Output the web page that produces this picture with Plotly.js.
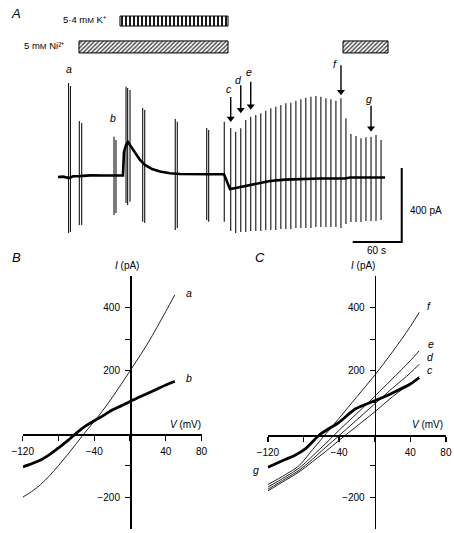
<!DOCTYPE html>
<html><head><meta charset="utf-8">
<script src="https://cdn.plot.ly/plotly-3.0.1.min.js"></script>
<style>html,body{margin:0;padding:0;background:#fff;}#chart{width:454px;height:533px;}</style>
</head><body><div id="chart"></div>
<script>
// ---------- Panel A : holding current (time in s, current in pA relative to start level)
const holdT = [0, 6.1, 13.5, 18.4, 26.9, 39.2, 57.6, 69.8, 79.6, 80.8, 83.3, 85.7, 88.2, 94.3, 100.4, 106.5, 115.1, 124.9, 137.1, 149.4, 167.8, 186.1, 203.3, 206.9, 210.6, 214.3, 222.9, 235.1, 247.3, 259.6, 278.0, 296.3, 320.8, 351.4, 357.6, 400.4];
const holdI = [0, 2, -6, 4, 5, 9, 8, 9, 9, 135, 173, 189, 173, 130, 92, 65, 43, 30, 20, 16, 14, 15, 15, -27, -65, -62, -54, -41, -30, -22, -14, -10, -8, -8, -3, -3];

// ramp sweeps: time, top and bottom of the current excursion (pA)
const sweepT = [12.9, 15.3, 26.1, 29.0, 68.6, 71.0, 83.3, 85.3, 88.2, 103.7, 106.2, 143.6, 146.1, 182.1, 184.5, 203.6,
  211.5, 217.6, 223.8, 229.9, 236.0, 242.2, 248.3, 254.4, 260.6, 266.7, 272.9, 279.0, 285.1, 291.3, 297.4, 303.5,
  309.7, 315.8, 321.9, 328.1, 334.2, 340.3, 346.5, 352.6, 358.7, 364.9, 371.0, 377.1, 383.3, 389.4, 395.6];
const sweepTop = [508, 492, 303, 292, 218, 200, 488, 481, 470, 373, 362, 314, 299, 265, 254, 299,
  265, 245, 263, 308, 326, 335, 344, 358, 371, 380, 389, 398, 402, 412, 420, 429,
  434, 438, 434, 425, 420, 412, 425, 317, 232, 222, 209, 215, 218, 227, 200];
const sweepBottom = [-303, -297, -259, -259, -205, -195, -141, -151, -134, -242, -249, -286, -276, -232, -242, -242,
  -292, -303, -297, -297, -292, -292, -292, -286, -286, -286, -281, -281, -281, -276, -276, -276,
  -276, -270, -270, -270, -270, -270, -276, -254, -243, -243, -243, -238, -238, -238, -232];
const sweepLabels = ['a', 'b', 'c', 'd', 'e', 'f', 'g'];
const sweepLabelIdx = [0, 4, 16, 18, 20, 38, 44];

// solution application periods (s)
const kOn = [75.9], kOff = [208.2];
const niOn = [25.7, 349.0], niOff = [208.2, 404.1];
const solutionLabels = ['5·4 m<span style="font-size:8px">M</span> K\u207A', '5 m<span style="font-size:8px">M</span> Ni\u00B2\u207A'];
const scaleT = 60, scaleI = 400;

// ---------- Panel B : I–V relations a and b (mV, pA)
const vB = [-120, -110, -100, -90, -80, -70, -60, -50, -40, -30, -20, -10, 0, 10, 20, 30, 40, 50];
const iBa = [-200, -182, -160, -132, -100, -66, -30, 6, 40, 76, 115, 157, 200, 243, 288, 337, 388, 440];
const iBb = [-104, -94, -82, -65, -44, -22, 3, 25, 42, 58, 76, 89, 103, 116, 129, 142, 155, 167];

// ---------- Panel C : I–V relations c–g
const vC = [-120, -100, -85, -70, -55, -40, -20, 0, 20, 40, 50];
const iCc = [-180, -146, -120, -88, -55, -20, 25, 70, 118, 160, 182];
const iCd = [-175, -141, -115, -80, -42, -5, 45, 95, 145, 193, 221];
const iCe = [-168, -135, -108, -70, -30, 12, 65, 119, 175, 232, 263];
const iCf = [-160, -128, -100, -50, 0, 50, 118, 186, 260, 340, 385];
const vG = [-120, -100, -90, -78, -61, -40, -22, 0, 20, 40, 50];
const iCg = [-105, -80, -68, -47, 0, 37, 79, 105, 130, 158, 178];

// labelled and unlabelled ticks
const vTicks = [-120, -40, 40, 80];
const vTickText = ['\u2212120', '\u221240', '40', '80'];
const vMinorTicks = [-80, 0];
const iTicks = [400, 200, -200];
const iTickText = ['400', '200', '\u2212200'];
const iMinorTicks = [300, 100, -100];

// ---------- layout helpers (pixel -> paper fraction)
const W = 454, H = 533;
const fx = p => p / W, fy = p => 1 - p / H;
const FONT = 'Liberation Sans, Arial, sans-serif';
const yRangeA = [-448.6, 956.7], yPixA = 260;          // panel A y axis spans 260 px
const pAperPx = (yRangeA[1] - yRangeA[0]) / yPixA;

// sweeps as segments
const sx = [], sy = [];
sweepT.forEach((t, i) => { sx.push(t, t, null); sy.push(sweepBottom[i], sweepTop[i], null); });

// arrows (c..g): [label index, tail height px above sweep top, gap px above sweep top]
const arrowCfg = [[2, 31, 6], [3, 43, 15], [4, 35, 7], [5, 33, 3], [6, 31, 5]];
const ax = [], ay = [], hx = [], hy = [];
arrowCfg.forEach(([k, len, gap]) => {
  const i = sweepLabelIdx[k];
  ax.push(sweepT[i], sweepT[i], null);
  ay.push(sweepTop[i] + len * pAperPx, sweepTop[i] + (gap + 4) * pAperPx, null);
  hx.push(sweepT[i]);
  hy.push(sweepTop[i] + (gap + 3.5) * pAperPx);
});

const traces = [
  {type: 'scatter', mode: 'lines', x: sx, y: sy, xaxis: 'x', yaxis: 'y', line: {color: '#111', width: 1.1}, hoverinfo: 'skip'},
  {type: 'scatter', mode: 'lines', x: holdT, y: holdI, xaxis: 'x', yaxis: 'y', line: {color: '#000', width: 2.6}, hoverinfo: 'skip'},
  {type: 'bar', orientation: 'h', y: kOn.map(() => 843), base: kOn, x: kOn.map((v, i) => kOff[i] - v), width: 54,
   xaxis: 'x', yaxis: 'y', marker: {color: 'white', line: {color: '#000', width: 1},
   pattern: {shape: '|', fgcolor: '#000', bgcolor: 'white', size: 4, solidity: 0.45}}, hoverinfo: 'skip'},
  {type: 'bar', orientation: 'h', y: niOn.map(() => 703), base: niOn, x: niOn.map((v, i) => niOff[i] - v), width: 65,
   xaxis: 'x', yaxis: 'y', marker: {color: 'white', line: {color: '#000', width: 1},
   pattern: {shape: '/', fgcolor: '#444', bgcolor: 'white', size: 3, solidity: 0.45}}, hoverinfo: 'skip'},
  // arrows
  {type: 'scatter', mode: 'lines', x: ax, y: ay, xaxis: 'x', yaxis: 'y', line: {color: '#000', width: 1.4}, hoverinfo: 'skip'},
  {type: 'scatter', mode: 'markers', x: hx, y: hy, xaxis: 'x', yaxis: 'y', marker: {symbol: 'triangle-down', size: 7, color: '#000', line: {width: 0}}, hoverinfo: 'skip'},
  // scale bar
  {type: 'scatter', mode: 'lines', x: [420.9 - scaleT, 420.9, 420.9], y: [-351.4, -351.4, -351.4 + scaleI],
   xaxis: 'x', yaxis: 'y', line: {color: '#000', width: 2}, hoverinfo: 'skip'},
  // Panel B
  {type: 'scatter', mode: 'lines', x: vB, y: iBa, xaxis: 'x2', yaxis: 'y2', line: {color: '#222', width: 1, shape: 'spline'}, hoverinfo: 'skip'},
  {type: 'scatter', mode: 'lines', x: vB, y: iBb, xaxis: 'x2', yaxis: 'y2', line: {color: '#000', width: 2.8, shape: 'spline'}, hoverinfo: 'skip'},
  // Panel C
  {type: 'scatter', mode: 'lines', x: vC, y: iCc, xaxis: 'x3', yaxis: 'y3', line: {color: '#222', width: 1, shape: 'spline'}, hoverinfo: 'skip'},
  {type: 'scatter', mode: 'lines', x: vC, y: iCd, xaxis: 'x3', yaxis: 'y3', line: {color: '#222', width: 1, shape: 'spline'}, hoverinfo: 'skip'},
  {type: 'scatter', mode: 'lines', x: vC, y: iCe, xaxis: 'x3', yaxis: 'y3', line: {color: '#222', width: 1, shape: 'spline'}, hoverinfo: 'skip'},
  {type: 'scatter', mode: 'lines', x: vC, y: iCf, xaxis: 'x3', yaxis: 'y3', line: {color: '#222', width: 1, shape: 'spline'}, hoverinfo: 'skip'},
  {type: 'scatter', mode: 'lines', x: vG, y: iCg, xaxis: 'x3', yaxis: 'y3', line: {color: '#000', width: 2.8, shape: 'spline', smoothing: 0.6}, hoverinfo: 'skip'}
];

const minorCfg = vals => ({tickmode: 'array', tickvals: vals, ticks: 'outside', ticklen: 5, tickwidth: 1.3, tickcolor: '#000', showgrid: false});
const ivX = (dom, pos) => ({domain: dom, range: [-120, 80], anchor: 'free', position: pos, showline: true, linecolor: '#000', linewidth: 1.6,
  ticks: 'outside', ticklen: 5, tickwidth: 1.3, tickcolor: '#000', tickmode: 'array', tickvals: vTicks, ticktext: vTickText,
  minor: minorCfg(vMinorTicks),
  tickfont: {size: 10, color: '#000', family: FONT}, ticklabelstandoff: 2, showgrid: false, zeroline: false, fixedrange: true});
const ivY = (dom, pos) => ({domain: dom, range: [-300, 500], anchor: 'free', position: pos, showline: true, linecolor: '#000', linewidth: 1.6,
  ticks: 'outside', ticklen: 5, tickwidth: 1.3, tickcolor: '#000', tickmode: 'array', tickvals: iTicks, ticktext: iTickText,
  minor: minorCfg(iMinorTicks),
  tickfont: {size: 10, color: '#000', family: FONT}, ticklabelstandoff: 3, showgrid: false, zeroline: false, fixedrange: true});

const yDomIV = [fy(528.8), fy(276)];
const layout = {
  width: W, height: H, margin: {l: 0, r: 0, t: 0, b: 0}, showlegend: false,
  paper_bgcolor: '#fff', plot_bgcolor: 'rgba(0,0,0,0)', barmode: 'overlay',
  font: {family: FONT, color: '#000', size: 10},
  xaxis: {domain: [0, 1], range: [-71.0, 484.9], visible: false, fixedrange: true},
  yaxis: {domain: [fy(yPixA), 1], range: yRangeA, visible: false, fixedrange: true},
  xaxis2: ivX([fx(22.7), fx(201.6)], fy(434)),
  yaxis2: ivY(yDomIV, fx(130)),
  xaxis3: ivX([fx(267.9), fx(445.9)], fy(435)),
  yaxis3: ivY(yDomIV, fx(374.7)),
  annotations: []
};
const A = layout.annotations;
const txt = (x, y, text, size, extra) => A.push(Object.assign({xref: 'paper', yref: 'paper', x: fx(x), y: fy(y), text: text,
  showarrow: false, xanchor: 'center', yanchor: 'middle', font: {size: size, family: FONT, color: '#000'}}, extra || {}));

// panel letters
txt(16, 13, '<i>A</i>', 13);
txt(16, 257, '<i>B</i>', 13);
txt(260, 257, '<i>C</i>', 13);
// solution labels
txt(108, 20, solutionLabels[0], 9.5, {xanchor: 'right'});
txt(66, 46, solutionLabels[1], 9.5, {xanchor: 'right'});
// scale bar labels
txt(408, 210, '400 pA', 10, {xanchor: 'left'});
txt(376, 251, '60 s', 10);
// axis titles
txt(127, 265, '<i>I</i> (pA)', 10);
txt(185, 424, '<i>V</i> (mV)', 10);
txt(363, 265, '<i>I</i> (pA)', 10);
txt(427, 424, '<i>V</i> (mV)', 10);

// sweep letters in panel A
const labShift = [[0.5, 14], [-1, 19], [-2, 39], [-2, 48], [-2, 45], [-6, 34], [-2, 38]];
sweepLabels.forEach((L, k) => {
  const i = sweepLabelIdx[k];
  A.push({xref: 'x', yref: 'y', x: sweepT[i], y: sweepTop[i], text: '<i>' + L + '</i>', showarrow: false,
    xshift: labShift[k][0], yshift: labShift[k][1], xanchor: 'center', yanchor: 'middle', font: {size: 10.5, family: FONT, color: '#000'}});
});

// curve labels
const curveLab = (xa, ya, x, y, t, dx, dy) => A.push({xref: xa, yref: ya, x: x, y: y, text: '<i>' + t + '</i>', showarrow: false,
  xshift: dx, yshift: dy, xanchor: 'center', yanchor: 'middle', font: {size: 10.5, family: FONT, color: '#000'}});
curveLab('x2', 'y2', vB[vB.length - 1], iBa[iBa.length - 1], 'a', 14, 2);
curveLab('x2', 'y2', vB[vB.length - 1], iBb[iBb.length - 1], 'b', 14, 3);
const nC = vC.length - 1;
curveLab('x3', 'y3', vC[nC], iCf[nC], 'f', 10, 6);
curveLab('x3', 'y3', vC[nC], iCe[nC], 'e', 12, 7);
curveLab('x3', 'y3', vC[nC], iCd[nC], 'd', 11, 7);
curveLab('x3', 'y3', vC[nC], iCc[nC], 'c', 11, 6);
curveLab('x3', 'y3', vG[0], iCg[0], 'g', -12, -3);

Plotly.newPlot('chart', traces, layout, {staticPlot: true, displayModeBar: false});
</script></body></html>
